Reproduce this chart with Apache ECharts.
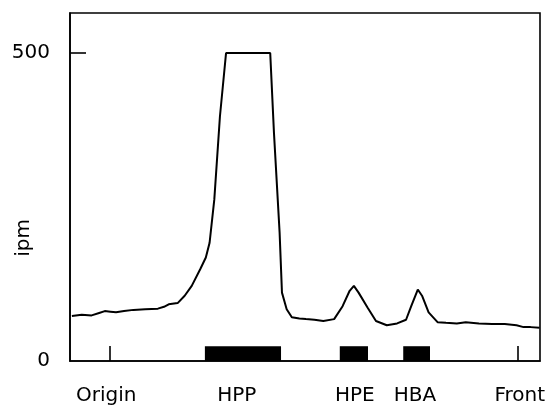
<!DOCTYPE html>
<html><head><meta charset="utf-8">
<script src="https://cdn.jsdelivr.net/npm/echarts@6/dist/echarts.min.js"></script>
<style>html,body{margin:0;padding:0;background:#fff}#c{width:549px;height:406px}</style>
</head><body><div id="c"></div>
<script>
// distance along the chromatogram (0..100 over the plot width) and activity (ipm)
const traceX = [0.4,2.5,4.6,6.2,7.4,8.6,9.8,11.5,13.5,16,18.7,20,21,22.9,24.4,25.9,27.7,28.9,29.7,30.7,31.9,33.2,42.6,43.4,44.6,45.1,46.1,47.2,48.8,50.2,52,53.9,56.2,58,59.5,60.4,61.4,63.3,65.1,67.4,69.6,71.5,72.6,74,74.9,76.3,78.2,80,82.3,84.2,87,89.8,92.5,95,96.5,98,99.9];
const traceY = [73,75,74,78,81,80,79,81,83,84,85,88,92,94,106,122,149,168,192,262,397,500,500,370,208,111,84,71,69,68,67,65,68,89,114,122,111,87,65,58,61,67,89,116,106,79,63,62,61,63,61,60,60,58,55,55,54];
const labelPos = [7.7,35.5,60.6,73.4,95.7];
const labelNames = ['Origin','HPP','HPE','HBA','Front'];
const markerTicks = [8.5,95.3];
const bandStart = [28.7,57.4,70.9];
const bandEnd = [44.9,63.4,76.6];
const bandHeight = [24,24,24];
const yTicks = [0,500];

const chart = echarts.init(document.getElementById('c'));
const font = 'DejaVu Sans, Liberation Sans, Arial, sans-serif';
chart.setOption({
  animation:false,
  grid:{left:70,right:9,top:13,bottom:44,show:true,borderColor:'#000',borderWidth:1.6,backgroundColor:'transparent'},
  xAxis:{type:'value',min:0,max:100,
    axisLine:{show:true,lineStyle:{color:'#000',width:1.6}},
    splitLine:{show:false},
    axisTick:{show:true,inside:true,length:15,customValues:markerTicks,lineStyle:{color:'#000',width:1.6}},
    axisLabel:{show:true,customValues:labelPos,margin:25,color:'#000',fontSize:20,fontFamily:font,
      formatter:v=>{const i=labelPos.findIndex(p=>Math.abs(p-v)<1e-6);return i>=0?labelNames[i]:'';}}},
  yAxis:{type:'value',min:0,max:565,
    axisLine:{show:true,lineStyle:{color:'#000',width:1.6}},
    splitLine:{show:false},
    axisTick:{show:true,inside:true,length:16,customValues:[500],lineStyle:{color:'#000',width:1.6}},
    axisLabel:{show:true,customValues:yTicks,margin:20,color:'#000',fontSize:20,fontFamily:font}},
  graphic:[{type:'text',x:24,y:238,rotation:Math.PI/2,style:{text:'ipm',font:'20px '+font,fill:'#000',textAlign:'center',textVerticalAlign:'middle'}}],
  series:[
    {type:'line',data:traceX.map((x,i)=>[x,traceY[i]]),symbol:'none',smooth:false,lineStyle:{color:'#000',width:2}},
    {type:'custom',data:bandStart.map((s,i)=>[s,bandEnd[i],bandHeight[i]]),
      renderItem:(params,api)=>{
        const p0=api.coord([api.value(0),api.value(2)]);
        const p1=api.coord([api.value(1),0]);
        return {type:'rect',shape:{x:p0[0],y:p0[1],width:p1[0]-p0[0],height:p1[1]-p0[1]},style:{fill:'#000'}};
      }}
  ]
});
</script></body></html>
